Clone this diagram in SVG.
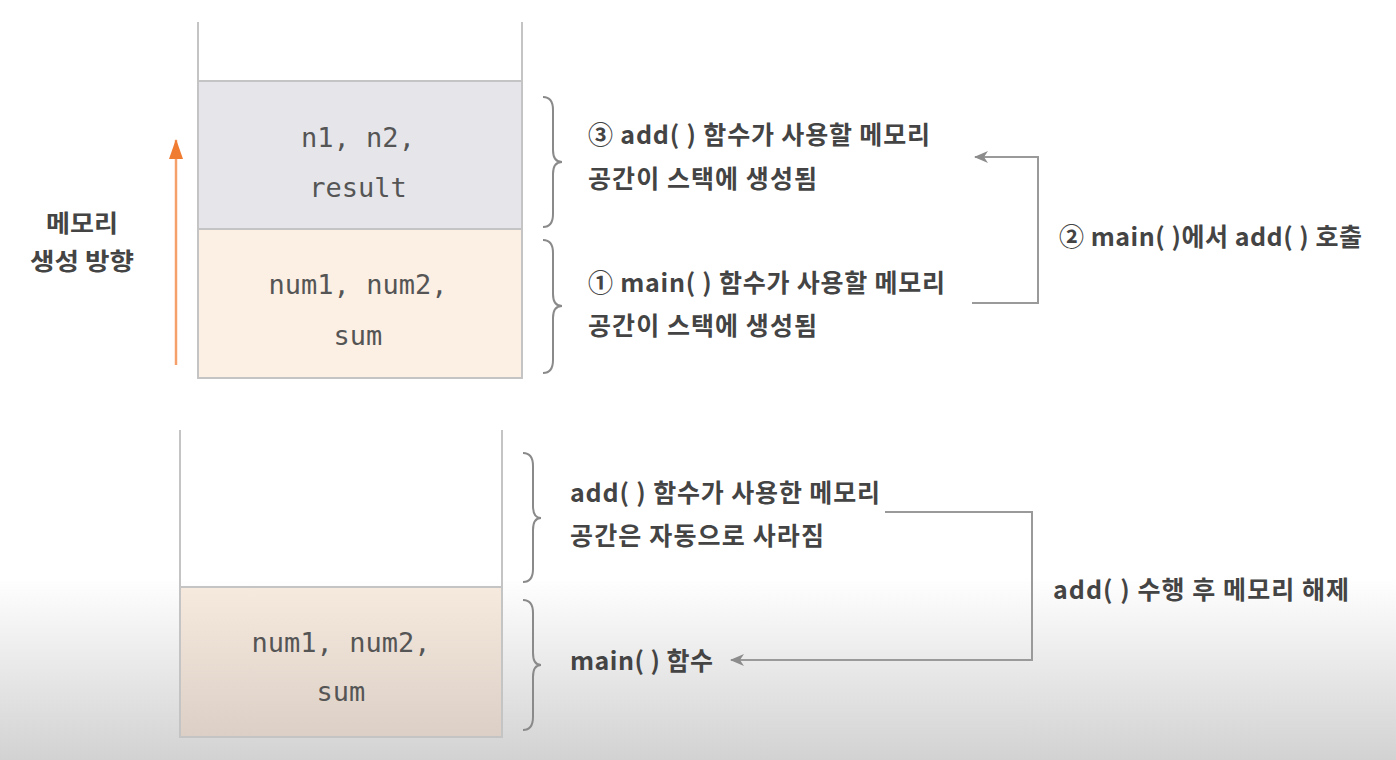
<svg xmlns="http://www.w3.org/2000/svg" width="1396" height="760" viewBox="0 0 1396 760">
<defs>
<linearGradient id="bg" x1="0" y1="0" x2="0" y2="1">
<stop offset="0" stop-color="#ffffff"/>
<stop offset="0.76" stop-color="#ffffff"/>
<stop offset="1" stop-color="#d2d2d2"/>
</linearGradient>
<linearGradient id="peach2" x1="0" y1="0" x2="0" y2="1">
<stop offset="0" stop-color="#f6eadf"/>
<stop offset="1" stop-color="#dcd0c6"/>
</linearGradient>
<marker id="ah" viewBox="0 0 14 12" refX="13" refY="6" markerWidth="14" markerHeight="12" markerUnits="userSpaceOnUse" orient="auto">
<path d="M14,6 L0,0 L4,6 L0,12 Z" fill="#8c8c8c"/>
</marker>
<marker id="oh" viewBox="0 0 14 20" refX="7" refY="1" markerWidth="14" markerHeight="20" markerUnits="userSpaceOnUse" orient="0">
<path d="M7,0 L14,20 L0,20 Z" fill="#f07c32"/>
</marker>
</defs>
<style>
.wall{stroke:#c4c4c4;stroke-width:2;fill:none}
.box{stroke:#c4c4c4;stroke-width:2}
.mono{font-family:"DejaVu Sans Mono","Liberation Mono",monospace;font-size:27px;fill:#555;text-anchor:middle}
.kr{font-family:"Noto Sans CJK KR","Noto Sans",sans-serif;font-size:25px;font-weight:bold;fill:#444}
.kl{font-family:"Noto Sans CJK KR","Noto Sans",sans-serif;font-size:24px;font-weight:bold;fill:#444;text-anchor:middle}
.brace{stroke:#8a8a8a;stroke-width:2;fill:none}
.conn{stroke:#9a9a9a;stroke-width:2;fill:none}
</style>
<rect x="0" y="0" width="1396" height="760" fill="url(#bg)"/>

<g id="top-stack">
<path class="wall" d="M198,22 V378 M522,22 V378"/>
</g>
<g id="add-frame">
<rect class="box" x="198" y="81" width="324" height="148" fill="#e6e6ea"/>
<text class="mono" x="358" y="147">n1, n2,</text>
<text class="mono" x="358" y="197">result</text>
</g>
<g id="main-frame-top">
<rect class="box" x="198" y="229" width="324" height="149" fill="#fcefe3"/>
<text class="mono" x="358" y="294">num1, num2,</text>
<text class="mono" x="358" y="345">sum</text>
</g>

<g id="direction">
<line x1="176" y1="365" x2="176" y2="140" stroke="#f5a06a" stroke-width="2.5" marker-end="url(#oh)"/>
<text class="kl" x="82" y="232" textLength="72" lengthAdjust="spacingAndGlyphs">메모리</text>
<text class="kl" x="82" y="270" textLength="104" lengthAdjust="spacingAndGlyphs">생성 방향</text>
</g>

<g id="brace-add">
<path class="brace" d="M543,97 Q553,97 553,110 L553,150 Q553,162 562,162 Q553,162 553,174 L553,214 Q553,227 543,227"/>
<text class="kr" x="588" y="144" textLength="342" lengthAdjust="spacing">③ add( ) 함수가 사용할 메모리</text>
<text class="kr" x="588" y="188" textLength="229" lengthAdjust="spacing">공간이 스택에 생성됨</text>
</g>
<g id="brace-main">
<path class="brace" d="M543,240 Q553,240 553,253 L553,294 Q553,306 562,306 Q553,306 553,318 L553,360 Q553,373 543,373"/>
<text class="kr" x="588" y="292" textLength="357" lengthAdjust="spacing">① main( ) 함수가 사용할 메모리</text>
<text class="kr" x="588" y="335" textLength="229" lengthAdjust="spacing">공간이 스택에 생성됨</text>
</g>

<g id="bottom-stack">
<path class="wall" d="M180,430 V737 M502,430 V737"/>
</g>
<g id="main-frame-bottom">
<rect class="box" x="180" y="587" width="322" height="150" fill="url(#peach2)"/>
<text class="mono" x="341" y="652">num1, num2,</text>
<text class="mono" x="341" y="701">sum</text>
</g>

<g id="brace-freed">
<path class="brace" d="M523,453 Q533,453 533,466 L533,506 Q533,518 541,518 Q533,518 533,530 L533,569 Q533,582 523,582"/>
<text class="kr" x="570" y="502" textLength="310" lengthAdjust="spacing">add( ) 함수가 사용한 메모리</text>
<text class="kr" x="570" y="545" textLength="254" lengthAdjust="spacing">공간은 자동으로 사라짐</text>
</g>
<g id="brace-main-bottom">
<path class="brace" d="M523,600 Q533,600 533,613 L533,653 Q533,665 541,665 Q533,665 533,677 L533,717 Q533,730 523,730"/>
<text class="kr" x="570" y="670" textLength="143" lengthAdjust="spacing">main( ) 함수</text>
</g>

<g id="connectors">
<path class="conn" d="M972,303 H1038 V157 H975" marker-end="url(#ah)"/>
<path class="conn" d="M885,512 H1032 V660 H731" marker-end="url(#ah)"/>
</g>
<g id="labels">
<text class="kr" x="1059" y="246" textLength="303" lengthAdjust="spacing">② main( )에서 add( ) 호출</text>
<text class="kr" x="1053" y="599" textLength="296" lengthAdjust="spacing">add( ) 수행 후 메모리 해제</text>
</g>
</svg>
